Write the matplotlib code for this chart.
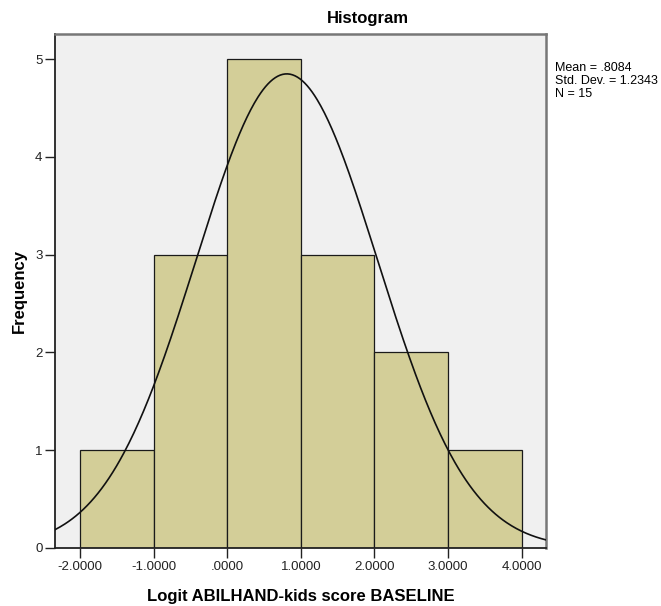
import numpy as np
import matplotlib
matplotlib.use("Agg")
import matplotlib.pyplot as plt

plt.rcParams['font.family'] = ['Liberation Sans', 'DejaVu Sans']

# Histogram data: bin edges and frequencies
bin_edges = [-2.0, -1.0, 0.0, 1.0, 2.0, 3.0, 4.0]
frequencies = [1, 3, 5, 3, 2, 1]
mean_value = 0.8084
std_dev = 1.2343
n_cases = 15
x_ticks = [-2.0, -1.0, 0.0, 1.0, 2.0, 3.0, 4.0]
x_tick_labels = ["-2.0000", "-1.0000", ".0000", "1.0000", "2.0000", "3.0000", "4.0000"]
y_ticks = [0, 1, 2, 3, 4, 5]

fig = plt.figure(figsize=(6.61, 6.06), dpi=100)
fig.patch.set_facecolor('white')
ax = fig.add_axes([55 / 661, 58 / 606, 491 / 661, 514 / 606])
ax.set_facecolor('#F0F0F0')

widths = np.diff(bin_edges)
ax.bar(bin_edges[:-1], frequencies, width=widths, align='edge',
       color='#D3CE98', edgecolor='#1a1a1a', linewidth=0.9, zorder=2)

# Normal curve scaled to counts per bin
xlo, xhi = -2.34, 4.33
xs = np.linspace(xlo, xhi, 400)
bw = widths[0]
curve = n_cases * bw / (std_dev * np.sqrt(2 * np.pi)) * np.exp(-0.5 * ((xs - mean_value) / std_dev) ** 2)
ax.plot(xs, curve, color='#111111', linewidth=1.2, zorder=3)

ax.set_xlim(xlo, xhi)
ax.set_ylim(0, 5.256)
ax.set_xticks(x_ticks)
ax.set_xticklabels(x_tick_labels, fontsize=9.5, color='#222222')
ax.set_yticks(y_ticks)
ax.set_yticklabels([str(v) for v in y_ticks], fontsize=9.5, color='#222222')
ax.tick_params(axis='both', direction='out', length=7, width=1.0, color='#222222', pad=2)

for side in ['left', 'bottom']:
    ax.spines[side].set_color('#222222')
    ax.spines[side].set_linewidth(1.3)
for side in ['top', 'right']:
    ax.spines[side].set_color('#777777')
    ax.spines[side].set_linewidth(1.8)

ax.set_xlabel('Logit ABILHAND-kids score BASELINE', fontsize=12, fontweight='bold', labelpad=12)
ax.set_ylabel('Frequency', fontsize=12, fontweight='bold', labelpad=6)

fig.text(368 / 661, 1 - 18 / 606, 'Histogram', fontsize=12, fontweight='bold', ha='center', va='center')

stats = f"Mean = .{str(mean_value).split('.')[1]}\nStd. Dev. = {std_dev}\nN = {n_cases}"
fig.text(555 / 661, 1 - 62 / 606, stats, fontsize=9, ha='left', va='top', linespacing=1.1)

fig.savefig('out.png', dpi=100)
